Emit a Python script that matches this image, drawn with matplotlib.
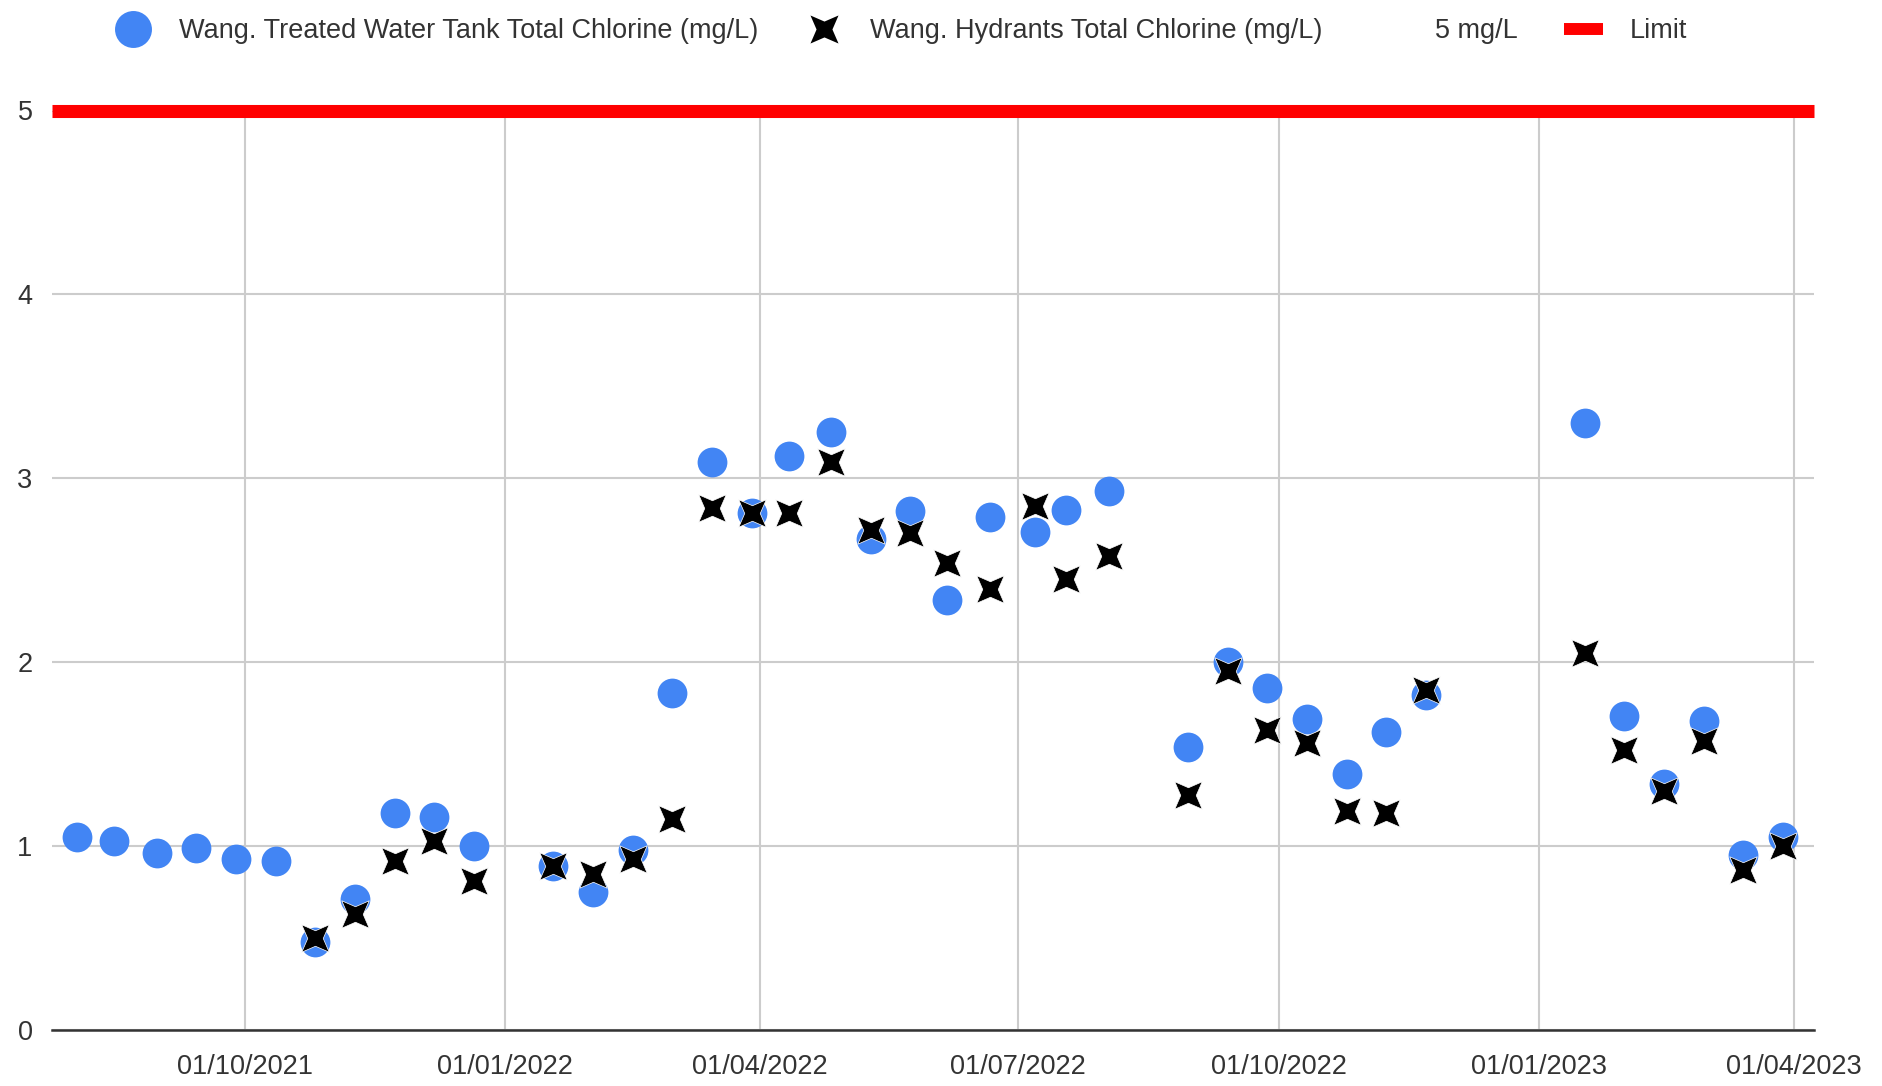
import matplotlib
matplotlib.use("Agg")

import numpy as np
import pandas as pd
import matplotlib.pyplot as plt
import matplotlib.dates as mdates
from matplotlib.path import Path
from matplotlib.lines import Line2D

plt.rcParams["font.family"] = ["Liberation Sans", "DejaVu Sans"]

# Sampling dates and readings (mg/L)
tank_dates = [
    "2021-08-03", "2021-08-16", "2021-08-31", "2021-09-14", "2021-09-28",
    "2021-10-12", "2021-10-26", "2021-11-09", "2021-11-23", "2021-12-07",
    "2021-12-21", "2022-01-18", "2022-02-01", "2022-02-15", "2022-03-01",
    "2022-03-15", "2022-03-29", "2022-04-11", "2022-04-26", "2022-05-10",
    "2022-05-24", "2022-06-06", "2022-06-21", "2022-07-07", "2022-07-18",
    "2022-08-02", "2022-08-30", "2022-09-13", "2022-09-27", "2022-10-11",
    "2022-10-25", "2022-11-08", "2022-11-22", "2023-01-17", "2023-01-31",
    "2023-02-14", "2023-02-28", "2023-03-14", "2023-03-28",
]
tank_values = [
    1.05, 1.03, 0.96, 0.99, 0.93,
    0.92, 0.48, 0.71, 1.18, 1.16,
    1.00, 0.89, 0.75, 0.98, 1.83,
    3.09, 2.81, 3.12, 3.25, 2.67,
    2.82, 2.34, 2.79, 2.71, 2.83,
    2.93, 1.54, 2.00, 1.86, 1.69,
    1.39, 1.62, 1.82, 3.30, 1.71,
    1.34, 1.68, 0.95, 1.05,
]

hydrant_dates = [
    "2021-10-26", "2021-11-09", "2021-11-23", "2021-12-07", "2021-12-21",
    "2022-01-18", "2022-02-01", "2022-02-15", "2022-03-01", "2022-03-15",
    "2022-03-29", "2022-04-11", "2022-04-26", "2022-05-10", "2022-05-24",
    "2022-06-06", "2022-06-21", "2022-07-07", "2022-07-18", "2022-08-02",
    "2022-08-30", "2022-09-13", "2022-09-27", "2022-10-11", "2022-10-25",
    "2022-11-08", "2022-11-22", "2023-01-17", "2023-01-31", "2023-02-14",
    "2023-02-28", "2023-03-14", "2023-03-28",
]
hydrant_values = [
    0.50, 0.63, 0.92, 1.03, 0.81,
    0.89, 0.85, 0.93, 1.15, 2.84,
    2.81, 2.81, 3.09, 2.72, 2.70,
    2.54, 2.40, 2.85, 2.45, 2.58,
    1.28, 1.95, 1.63, 1.56, 1.19,
    1.18, 1.85, 2.05, 1.52, 1.30,
    1.57, 0.87, 1.00,
]

limit_value = 5

labels = [
    "Wang. Treated Water Tank Total Chlorine (mg/L)",
    "Wang. Hydrants Total Chlorine (mg/L)",
    "5 mg/L",
    "Limit",
]

BLUE = "#4285F4"
RED = "#FF0000"
TEXT = "#333333"
FS = 19.5

# four pointed star, used for the hydrant series
r_in = 0.4
verts = []
for k in range(4):
    a_in = np.deg2rad(90 * k)
    a_tip = np.deg2rad(90 * k + 45)
    verts.append((r_in * np.cos(a_in), r_in * np.sin(a_in)))
    verts.append((np.cos(a_tip), np.sin(a_tip)))
verts.append(verts[0])
codes = [Path.MOVETO] + [Path.LINETO] * (len(verts) - 2) + [Path.CLOSEPOLY]
star = Path(verts, codes)

fig = plt.figure(figsize=(18.83, 10.86), dpi=100)
ax = fig.add_axes([52 / 1883, 56 / 1086, 1762 / 1883, 919.5 / 1086])

ax.scatter(pd.to_datetime(tank_dates), tank_values, s=460, color=BLUE,
           linewidths=0, zorder=3)
ax.scatter(pd.to_datetime(hydrant_dates), hydrant_values, s=390, marker=star,
           color="black", edgecolors="white", linewidths=0.5, zorder=4)

ax.axhline(limit_value, color=RED, linewidth=9.4, clip_on=False, zorder=5,
           solid_capstyle="butt")

ax.set_xlim(pd.Timestamp("2021-07-25"), pd.Timestamp("2023-04-08"))
ax.set_ylim(0, 5)
ax.set_yticks(range(0, 6))

ax.xaxis.set_major_locator(mdates.MonthLocator(bymonth=[1, 4, 7, 10]))
ax.xaxis.set_major_formatter(mdates.DateFormatter("%d/%m/%Y"))

ax.grid(True, color="#CCCCCC", linewidth=1.5)
ax.set_axisbelow(True)
for side in ["top", "right", "left"]:
    ax.spines[side].set_visible(False)
ax.spines["bottom"].set_color("#333333")
ax.spines["bottom"].set_linewidth(1.8)
ax.spines["bottom"].set_zorder(2)

ax.tick_params(axis="both", length=0, labelsize=FS, labelcolor=TEXT)
ax.tick_params(axis="y", pad=14)
ax.tick_params(axis="x", pad=17)

handles = [
    Line2D([], [], linestyle="none", marker="o", markersize=26.6,
           color=BLUE, markeredgewidth=0),
    Line2D([], [], linestyle="none", marker=star, markersize=20.2,
           color="black", markeredgewidth=0),
    Line2D([], [], linestyle="none"),
    Line2D([], [], color=RED, linewidth=8.6, solid_capstyle="butt"),
]
fig.legend(handles, labels, loc="center left",
           bbox_to_anchor=(113.5 / 1883, 1 - 31 / 1086), ncol=4,
           frameon=False, fontsize=FS, labelcolor=TEXT,
           handlelength=1.44, handletextpad=0.98, columnspacing=1.72,
           borderpad=0, borderaxespad=0)

fig.savefig("out.png", dpi=100)
